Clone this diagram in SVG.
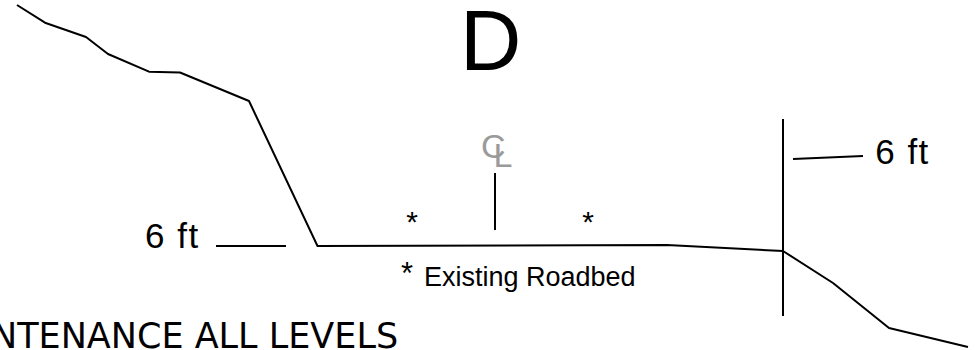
<svg xmlns="http://www.w3.org/2000/svg" width="975" height="350" viewBox="0 0 975 350">
<style>
.ln{fill:none;stroke:#000;stroke-width:2;stroke-linejoin:round;stroke-linecap:butt}
.ar{font-family:"Liberation Sans",Arial,sans-serif;fill:#000}
.dv{font-family:"DejaVu Sans",Verdana,sans-serif;fill:#000}
.ft{font-size:35px;letter-spacing:1.5px}
</style>
<rect x="0" y="0" width="975" height="350" fill="#fff"/>
<g id="terrain">
<polyline class="ln" points="17,5 45,22.7 86,37 108,54 149,71.7 180,72.5 249,101 317.5,246 667,245 783,251 833,283 889,328 968,347"/>
</g>
<g id="connectors">
<line class="ln" x1="783" y1="119" x2="783" y2="316"/>
<line class="ln" x1="216" y1="246" x2="286" y2="246"/>
<line class="ln" x1="793" y1="159" x2="863" y2="156"/>
<line class="ln" x1="495" y1="173" x2="495" y2="230"/>
</g>
<g id="title"><text class="ar" x="460" y="70" font-size="85">D</text></g>
<g id="centerline"><text class="ar" font-size="34" style="fill:#9a9a9a"><tspan x="481" y="158">C</tspan><tspan x="493.5" y="167">L</tspan></text></g>
<g id="label-left"><text class="ar ft" x="145" y="248">6 ft</text></g>
<g id="label-right"><text class="ar ft" x="875.2" y="164">6 ft</text></g>
<g id="marks">
<text class="ar" x="412" y="232" font-size="30" text-anchor="middle">*</text>
<text class="ar" x="588" y="232" font-size="30" text-anchor="middle">*</text>
</g>
<g id="legend"><text class="ar" font-size="27"><tspan x="401" y="284" font-size="31">*</tspan><tspan x="424" y="286">Existing Roadbed</tspan></text></g>
<g id="footer"><text class="dv" x="-9" y="348" font-size="35">NTENANCE ALL LEVELS</text></g>
</svg>
